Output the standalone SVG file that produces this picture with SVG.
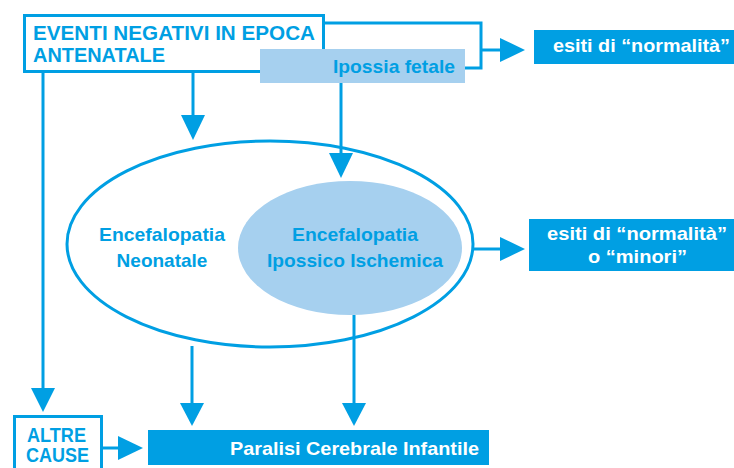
<svg xmlns="http://www.w3.org/2000/svg" width="734" height="468" viewBox="0 0 734 468">
<style>
.ln{fill:none;stroke:#009fe3;stroke-width:3}
.ah{fill:#009fe3}
.t{font-family:"Liberation Sans",Arial,sans-serif;font-weight:bold;fill:#009fe3}
.w{font-family:"Liberation Sans",Arial,sans-serif;font-weight:bold;fill:#ffffff}
.dark{fill:#009fe3}
.light{fill:#a6d0ef}
</style>
<rect width="734" height="468" fill="#ffffff"/>
<g id="eventi">
<rect x="24.5" y="15.5" width="299" height="56" fill="#ffffff" stroke="#009fe3" stroke-width="3"/>
<text class="t" x="33" y="40" font-size="20" textLength="282" lengthAdjust="spacingAndGlyphs">EVENTI NEGATIVI IN EPOCA</text>
<text class="t" x="33" y="62" font-size="20" textLength="132" lengthAdjust="spacingAndGlyphs">ANTENATALE</text>
</g>
<g id="ipossia">
<rect class="light" x="260" y="49" width="205" height="34"/>
<text class="t" x="333" y="73" font-size="19" textLength="122" lengthAdjust="spacingAndGlyphs">Ipossia fetale</text>
</g>
<g id="esiti1">
<rect class="dark" x="534" y="30" width="200" height="34"/>
<text class="w" x="553" y="52" font-size="19" textLength="177" lengthAdjust="spacingAndGlyphs">esiti di “normalità”</text>
</g>
<g id="neonatale">
<ellipse cx="270" cy="244" rx="203" ry="103" fill="#ffffff" stroke="#009fe3" stroke-width="3"/>
<text class="t" x="162" y="241" font-size="19" text-anchor="middle" textLength="126" lengthAdjust="spacingAndGlyphs">Encefalopatia</text>
<text class="t" x="162" y="267" font-size="19" text-anchor="middle">Neonatale</text>
</g>
<g id="hie">
<ellipse class="light" cx="350" cy="248" rx="112" ry="67"/>
<text class="t" x="355" y="241" font-size="19" text-anchor="middle" textLength="126" lengthAdjust="spacingAndGlyphs">Encefalopatia</text>
<text class="t" x="355" y="267" font-size="19" text-anchor="middle" textLength="176" lengthAdjust="spacingAndGlyphs">Ipossico Ischemica</text>
</g>
<g id="esiti2">
<rect class="dark" x="529" y="219" width="205" height="52"/>
<text class="w" x="547" y="240" font-size="19" textLength="180" lengthAdjust="spacingAndGlyphs">esiti di “normalità”</text>
<text class="w" x="588" y="263" font-size="19" textLength="99" lengthAdjust="spacingAndGlyphs">o “minori”</text>
</g>
<g id="altre">
<rect x="14.5" y="416.5" width="87" height="60" fill="#ffffff" stroke="#009fe3" stroke-width="3"/>
<text class="t" x="27" y="442" font-size="20" textLength="59" lengthAdjust="spacingAndGlyphs">ALTRE</text>
<text class="t" x="26" y="462" font-size="20" textLength="63" lengthAdjust="spacingAndGlyphs">CAUSE</text>
</g>
<g id="paralisi">
<rect class="dark" x="148" y="430" width="341" height="35"/>
<text class="w" x="230" y="455" font-size="19" textLength="249" lengthAdjust="spacingAndGlyphs">Paralisi Cerebrale Infantile</text>
</g>
<g id="connectors">
<polyline class="ln" points="323,23 481,23 481,68 465,68"/>
<line class="ln" x1="481" y1="50" x2="502" y2="50"/>
<polygon class="ah" points="500,38 525,50 500,62"/>
<line class="ln" x1="43" y1="73" x2="43" y2="390"/>
<polygon class="ah" points="31,388 55,388 43,412"/>
<line class="ln" x1="193" y1="73" x2="193" y2="117"/>
<polygon class="ah" points="181,115 205,115 193,140"/>
<line class="ln" x1="341" y1="83" x2="341" y2="155"/>
<polygon class="ah" points="329,153 353,153 341,178"/>
<line class="ln" x1="473" y1="249" x2="502" y2="249"/>
<polygon class="ah" points="500,237 525,249 500,261"/>
<line class="ln" x1="192" y1="346" x2="192" y2="405"/>
<polygon class="ah" points="180,403 204,403 192,426"/>
<line class="ln" x1="354" y1="315" x2="354" y2="405"/>
<polygon class="ah" points="342,403 366,403 354,426"/>
<line class="ln" x1="102" y1="448" x2="120" y2="448"/>
<polygon class="ah" points="118,436 143,448 118,460"/>
</g>
</svg>
